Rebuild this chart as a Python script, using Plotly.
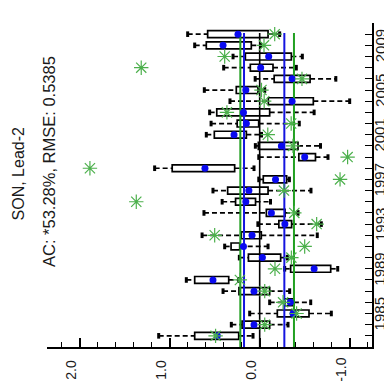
import plotly.graph_objects as go

years = list(range(1983, 2011))
# whisker left end (high), box left (high), box right (low), whisker right end (low)
whisk_hi = [1.122, 0.315, 0.111, -0.111, 0.407, 0.815, -0.278, 0.226, 0.389, 0.64,
            0.02, 0.619, 0.417, 0.519, 0.01, 1.167, 0.01, 0.048, 0.593, 0.54,
            0.556, 0.33, 0.615, 0.05, 0.4, 0.296, 0.722, 0.8]
box_hi = [0.722, 0.196, -0.196, -0.28, 0.23, 0.722, -0.344, 0.125, 0.318, 0.204,
          -0.213, -0.074, 0.268, 0.356, -0.04, 0.972, -0.435, 0.015, 0.504, 0.25,
          0.477, -0.096, 0.26, -0.161, 0.104, 0.159, 0.593, 0.578]
box_lo = [0.233, -0.111, -0.548, -0.38, -0.111, 0.344, -0.789, -0.233, 0.222, -0.018,
          -0.355, -0.282, 0.046, -0.093, -0.3, 0.278, -0.62, -0.426, 0.148, 0.011,
          -0.111, -0.596, 0.019, -0.56, -0.148, -0.352, 0.093, -0.093]
whisk_lo = [0.074, -0.315, -0.796, -0.567, -0.333, 0.233, -0.867, -0.307, -0.093, -0.64,
            -0.685, -0.426, -0.12, -0.57, -0.33, 0.063, -0.759, -0.676, -0.02, -0.44,
            -0.605, -1.0, -0.056, -0.846, -0.407, -0.474, -0.01, -0.222]
ens_mean = [0.471, 0.063, -0.37, -0.34, 0.063, 0.519, -0.605, -0.03, 0.18, 0.085,
            -0.28, -0.13, 0.154, 0.12, -0.176, 0.608, -0.5, -0.241, 0.285, 0.148,
            0.18, -0.36, 0.154, -0.36, -0.011, -0.1, 0.407, 0.241]
obs = [0.49, -0.056, -0.41, -0.26, -0.056, 0.22, -0.17, -0.352, -0.5, 0.5,
       -0.633, -0.385, 1.371, -0.27, -0.893, 1.886, -0.977, -0.37, -0.09, -0.35,
       0.364, -0.05, -0.02, -0.47, 1.316, 0.389, -0.048, -0.167]

obs_terciles = [0.215, -0.381]
model_terciles = [0.174, -0.274]
zero_line = [0.0]

value_ticks = [2.0, 1.0, 0.0, -1.0]
value_labels = ["2.0", "1.0", "0.0", "-1.0"]
year_ticks = [1985, 1989, 1993, 1997, 2001, 2005, 2009]
year_labels = ["1985", "1989", "1993", "1997", "2001", "2005", "2009"]

title_text = "SON, Lead-2"
sub_text = "AC: *53.28%, RMSE: 0.5385"

FONT = "Liberation Sans, Arial, sans-serif"
TXT = "#1a1a1a"
OBS_GREEN = "#4cb04c"
fig = go.Figure()

# boxes
fig.add_trace(go.Bar(
    y=years, x=[h - l for h, l in zip(box_hi, box_lo)], base=box_lo,
    orientation="h", width=0.62,
    marker=dict(color="white", line=dict(color="black", width=1.7)),
    showlegend=False, hoverinfo="skip"))

# whiskers
wx, wy = [], []
for yr, wh, bh, bl, wl in zip(years, whisk_hi, box_hi, box_lo, whisk_lo):
    wx += [wh, bh, None, bl, wl, None]
    wy += [yr, yr, None, yr, yr, None]
fig.add_trace(go.Scatter(x=wx, y=wy, mode="lines",
                         line=dict(color="black", width=1.7, dash="5px,3px"),
                         showlegend=False, hoverinfo="skip"))
# staples
fig.add_trace(go.Scatter(x=whisk_hi + whisk_lo, y=years + years, mode="markers",
                         marker=dict(symbol="line-ns", size=4, color="black",
                                     line=dict(color="black", width=3)),
                         showlegend=False, hoverinfo="skip"))

# reference lines
ytop = 2010.1
for v in zero_line:
    fig.add_trace(go.Scatter(x=[v, v], y=[1982, ytop], mode="lines",
                             line=dict(color="black", width=1.6),
                             showlegend=False, hoverinfo="skip"))
for v in model_terciles:
    fig.add_trace(go.Scatter(x=[v, v], y=[1982, ytop], mode="lines",
                             line=dict(color="#1515e0", width=2),
                             showlegend=False, hoverinfo="skip"))
for v in obs_terciles:
    fig.add_trace(go.Scatter(x=[v, v], y=[1982, ytop], mode="lines",
                             line=dict(color="#22a022", width=2),
                             showlegend=False, hoverinfo="skip"))

# ensemble means
fig.add_trace(go.Scatter(x=ens_mean, y=years, mode="markers",
                         marker=dict(symbol="circle", size=7, color="#0a0af0"),
                         showlegend=False, hoverinfo="skip"))
# observations
fig.add_trace(go.Scatter(x=obs, y=years, mode="markers",
                         marker=dict(symbol="asterisk-open", size=12, color=OBS_GREEN,
                                     line=dict(color=OBS_GREEN, width=1.2)),
                         showlegend=False, hoverinfo="skip"))

annotations = [
    dict(text=title_text, xref="paper", yref="paper", x=-0.06, y=0.534, xshift=-9,
         showarrow=False, textangle=-90, xanchor="center", yanchor="middle",
         font=dict(size=16, family=FONT, color=TXT)),
    dict(text=sub_text, xref="paper", yref="paper", x=0.034, y=0.571, xshift=-9,
         showarrow=False, textangle=-90, xanchor="center", yanchor="middle",
         font=dict(size=16.5, family=FONT, color=TXT)),
]
for v, lab in zip(value_ticks, value_labels):
    annotations.append(dict(text=lab, xref="x", yref="paper", x=v, y=-0.071,
                            xshift=-9, showarrow=False, textangle=-90,
                            xanchor="center", yanchor="middle",
                            font=dict(size=14, family=FONT, color=TXT)))
for yv, lab in zip(year_ticks, year_labels):
    annotations.append(dict(text=lab, xref="paper", yref="y", x=1.052, y=yv,
                            xshift=-9, showarrow=False, textangle=-90,
                            xanchor="center", yanchor="middle",
                            font=dict(size=15, family=FONT, color=TXT)))

fig.update_layout(
    width=392, height=381,
    margin=dict(l=39, r=28, t=15, b=42),
    paper_bgcolor="white", plot_bgcolor="white",
    font=dict(family=FONT, color=TXT),
    barmode="overlay",
    xaxis=dict(range=[2.363, -1.248], showgrid=False, zeroline=False,
               showline=True, linecolor="black", linewidth=1.5,
               tickmode="array", tickvals=value_ticks, showticklabels=False,
               ticks="inside", ticklen=9, tickwidth=1.5, tickcolor="black",
               minor=dict(tickmode="linear", tick0=0, dtick=0.2, ticks="inside",
                          ticklen=5, tickwidth=1, tickcolor="black"),
               automargin=False, fixedrange=True),
    yaxis=dict(range=[1982, 2011], side="right", showgrid=False, zeroline=False,
               showline=True, linecolor="black", linewidth=1.5,
               tickmode="array", tickvals=year_ticks, showticklabels=False,
               ticks="inside", ticklen=7, tickwidth=1, tickcolor="black",
               minor=dict(tickmode="linear", tick0=1982, dtick=1, ticks="inside",
                          ticklen=7, tickwidth=1, tickcolor="black"),
               automargin=False, fixedrange=True),
    annotations=annotations,
)

fig.write_html("out.html")
